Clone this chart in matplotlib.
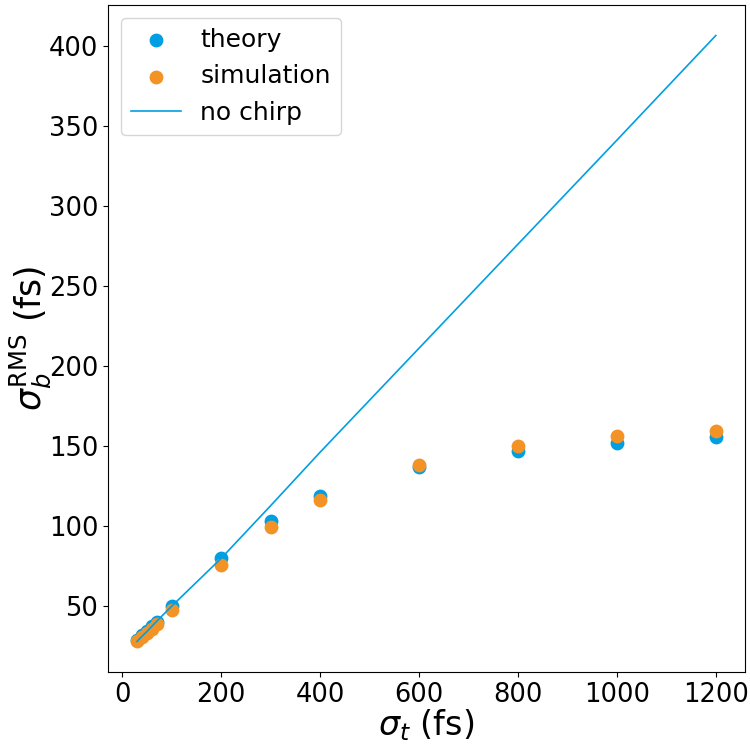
import matplotlib
matplotlib.use("Agg")
import matplotlib.pyplot as plt

# bunch length vs. pulse length
sigma_t = [30, 40, 50, 60, 70, 100, 200, 300, 400, 600, 800, 1000, 1200]
theory = [29.0, 31.7, 34.4, 37.3, 40.3, 49.8, 79.7, 102.8, 118.9, 136.8, 146.6, 151.8, 155.3]
simulation = [28.0, 30.5, 33.0, 35.8, 38.5, 47.7, 75.3, 99.1, 116.2, 137.9, 149.7, 155.9, 159.6]
no_chirp = [27.8, 31.0, 34.0, 37.3, 40.5, 49.8, 79.7, 112.6, 146.0, 211.0, 276.0, 341.0, 406.4]

blue = '#009fe3'
orange = '#f39325'

fig = plt.figure(figsize=(7.5, 7.44), dpi=100)
ax = fig.add_axes([0.144, 0.097, 0.849, 0.896])

ax.scatter(sigma_t, theory, s=80, color=blue, label='theory')
ax.scatter(sigma_t, simulation, s=80, color=orange, label='simulation')
ax.plot(sigma_t, no_chirp, color=blue, linewidth=1.2, label='no chirp')

ax.set_xlabel(r'$\sigma_t$ (fs)', fontsize=24, labelpad=0)
ax.set_ylabel(r'$\sigma_b^{\mathrm{RMS}}$ (fs)', fontsize=25, labelpad=-3)
ax.tick_params(labelsize=18.5)
ax.legend(fontsize=18, loc='upper left')

fig.savefig('out.png', dpi=100)
